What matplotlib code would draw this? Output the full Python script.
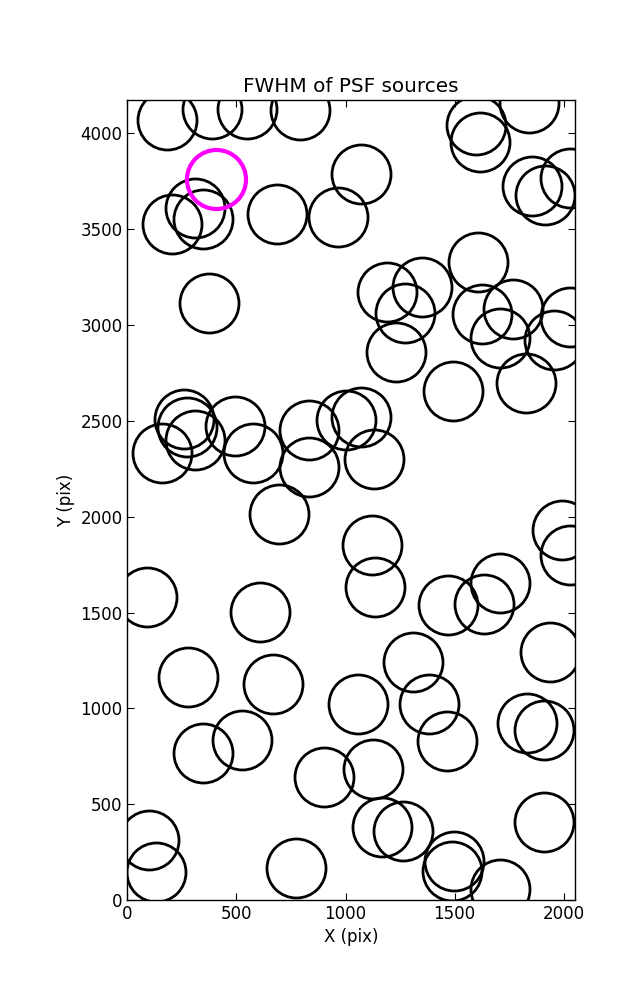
import matplotlib
matplotlib.use("Agg")
import matplotlib.pyplot as plt
import numpy as np

# source positions (pixels)
x_src = [183, 390, 546, 790, 206, 311, 348, 685, 966, 376, 1073,
         1597, 1617, 1839, 1855, 1916, 2031,
         1191, 1349, 1272, 1231, 1609, 1625, 1767, 1709, 2031, 1954, 1827, 1491,
         1073, 1004, 1131, 1122, 1137, 1993, 2031, 1709, 1635, 1471, 1308, 1939,
         261, 271, 311, 158, 491, 578, 832, 831, 697, 92, 610,
         279, 667, 348, 524, 1057, 901, 100, 133, 774,
         1384, 1467, 1832, 1911, 1127, 1165, 1262, 1498, 1487, 1709, 1911]
y_src = [4069, 4127, 4127, 4121, 3526, 3611, 3551, 3577, 3565, 3117, 3790,
         4043, 3956, 4157, 3725, 3678, 3765,
         3173, 3199, 3063, 2860, 3330, 3060, 3086, 2930, 3042, 2921, 2700, 2657,
         2520, 2503, 2299, 1850, 1632, 1932, 1798, 1653, 1542, 1540, 1241, 1295,
         2512, 2468, 2402, 2332, 2473, 2332, 2454, 2259, 2016, 1580, 1502,
         1166, 1128, 766, 836, 1023, 640, 315, 148, 167,
         1023, 832, 922, 888, 684, 383, 362, 202, 153, 57, 405]

# highlighted source
x_hl = [406]
y_hl = [3760]

fig = plt.figure(figsize=(6.37, 10), dpi=100, facecolor="white")
ax = fig.add_axes([0.2, 0.1, 0.7027, 0.8])
ax.plot(x_src, y_src, linestyle="none", marker="o", markersize=42.5,
        markerfacecolor="none", markeredgecolor="black", markeredgewidth=2.0)
ax.plot(x_hl, y_hl, linestyle="none", marker="o", markersize=42.5,
        markerfacecolor="none", markeredgecolor="magenta", markeredgewidth=3.0)
ax.set_xlim(0, 2052)
ax.set_ylim(0, 4174)
ax.set_xticks([0, 500, 1000, 1500, 2000])
ax.set_yticks(np.arange(0, 4001, 500))
ax.tick_params(direction="in", top=True, right=True, length=5, labelsize=12, width=0.8)
for sp in ax.spines.values():
    sp.set_linewidth(1.0)
ax.set_xlabel("X (pix)", fontsize=12)
ax.set_ylabel("Y (pix)", fontsize=12)
ax.set_title("FWHM of PSF sources", fontsize=14.4)
fig.savefig("out.png", dpi=100, facecolor="white")
